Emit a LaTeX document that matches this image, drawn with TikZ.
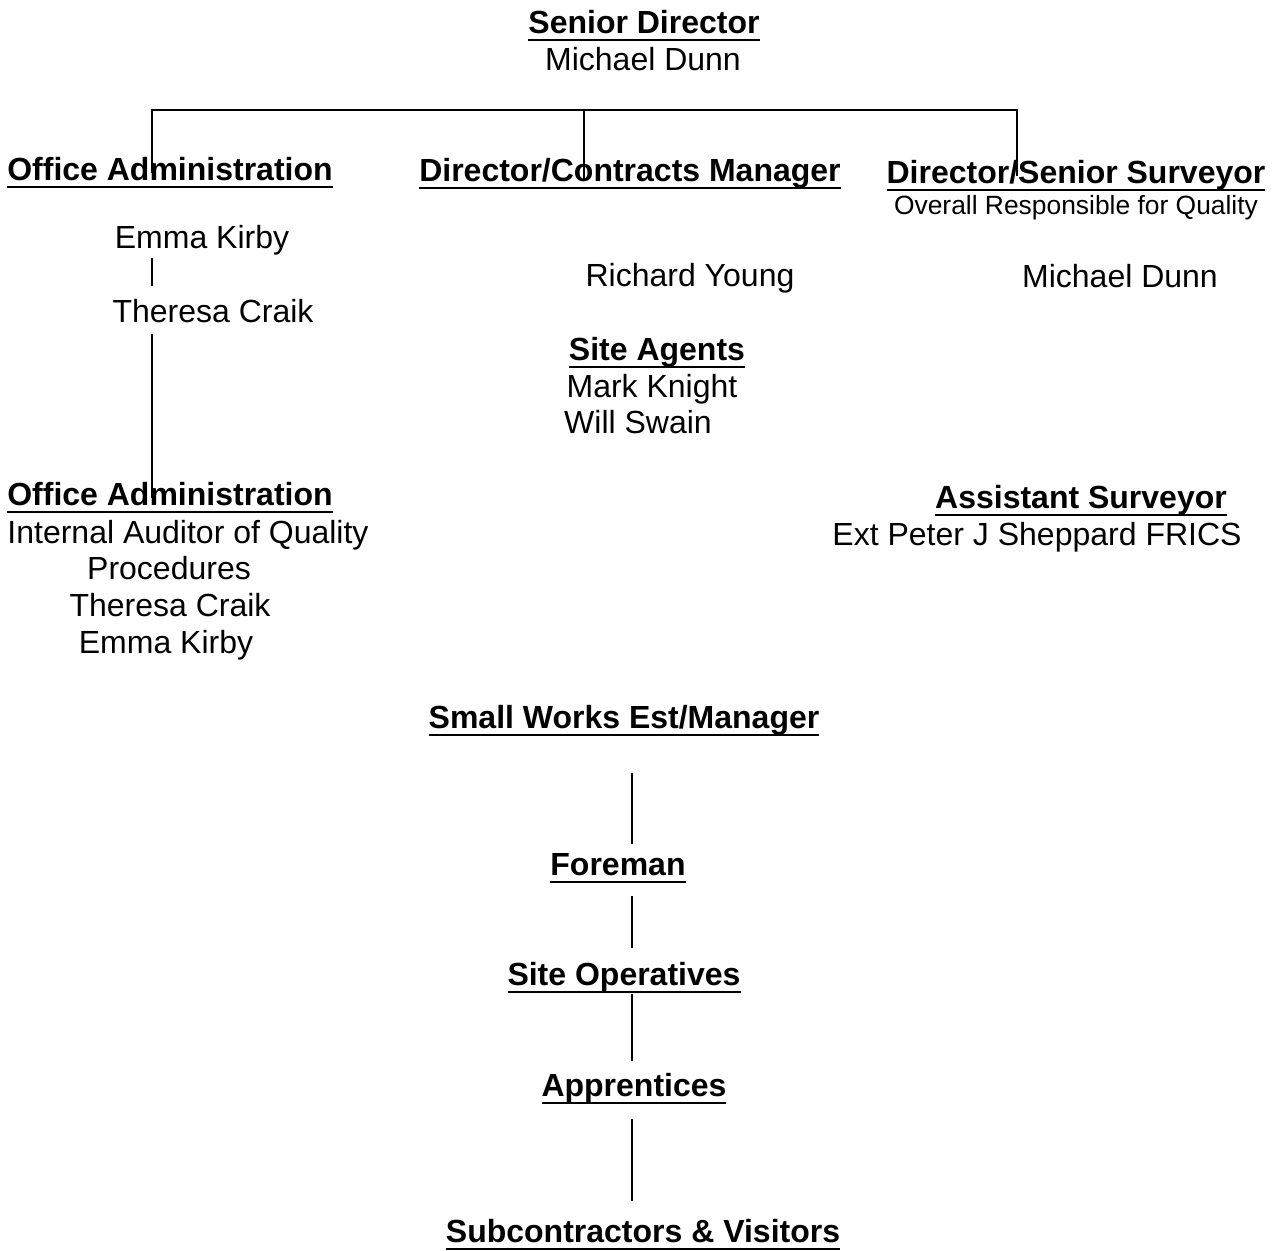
\documentclass[tikz,border=0pt]{standalone}
\usepackage{fontspec}
\setmainfont{Liberation Sans}
\newcommand{\ulhead}[1]{\setbox0\hbox{#1}\rlap{\rule[-4.2pt]{\wd0}{1.2pt}}\box0}
\begin{document}
\begin{tikzpicture}[x=0.5pt, y=-0.5pt,
        head/.style = {font=\fontsize{16}{19}\selectfont\bfseries, inner sep=0pt, anchor=base},
        person/.style = {font=\fontsize{16}{19}\selectfont, inner sep=0pt, anchor=base},
        remark/.style = {font=\fontsize{13.2}{16}\selectfont, inner sep=0pt, anchor=base},
        link/.style = {line width=0.9pt}]
        \useasboundingbox (0, 0) rectangle (1284, 1250);

        \node[head] (sd) at (644, 33) {\ulhead{Senior Director}};
        \node[person] (sdn) at (643, 70) {Michael Dunn};

        \node[head] (oa) at (170, 180) {\ulhead{Office Administration}};
        \node[head] (dcm) at (630, 181) {\ulhead{Director/Contracts Manager}};
        \node[head] (dss) at (1076, 183) {\ulhead{Director/Senior Surveyor}};
        \node[remark] (oq) at (1076, 214) {Overall Responsible for Quality};

        \node[person] (ek1) at (202, 248) {Emma Kirby};
        \node[person] (tc1) at (213, 322) {Theresa Craik};
        \node[person] (ry) at (690, 286) {Richard Young};
        \node[person] (md) at (1120, 287) {Michael Dunn};

        \node[head] (sa) at (657, 360) {\ulhead{Site Agents}};
        \node[person] (mk) at (652, 397) {Mark Knight};
        \node[person] (ws) at (638, 433) {Will Swain};

        \node[head] (oa2) at (170, 505) {\ulhead{Office Administration}};
        \node[person] (ia) at (188, 543) {Internal Auditor of Quality};
        \node[person] (pr) at (169, 579) {Procedures};
        \node[person] (tc2) at (170, 616) {Theresa Craik};
        \node[person] (ek2) at (166, 653) {Emma Kirby};

        \node[head] (as) at (1081, 508) {\ulhead{Assistant Surveyor}};
        \node[person] (pjs) at (1037, 545) {Ext Peter J Sheppard FRICS};

        \node[head] (swm) at (624, 728) {\ulhead{Small Works Est/Manager}};
        \node[head] (fm) at (618, 875) {\ulhead{Foreman}};
        \node[head] (so) at (624, 985) {\ulhead{Site Operatives}};
        \node[head] (ap) at (634, 1096) {\ulhead{Apprentices}};
        \node[head] (sv) at (643, 1242) {\ulhead{Subcontractors \& Visitors}};

        \coordinate (busL) at (152, 110);
        \coordinate (busM) at (584, 110);
        \coordinate (busR) at (1017, 110);
        \coordinate (spine) at (632, 0);

        \draw[link] (busL |- oa.center) -- (busL) -- (busR) -- (busR |- dss.center);
        \draw[link] (busM) -- (busM |- dcm.base);

        \draw[link, shorten <=1.5pt, shorten >=6pt] (ek1.south -| busL) -- (tc1.north -| busL);
        \draw[link, shorten <=5.5pt] (tc1.south -| busL) -- (oa2.center -| busL);

        \draw[link, shorten <=18.3pt, shorten >=4.5pt] (swm.south -| spine) -- (fm.north -| spine);
        \draw[link, shorten <=6.3pt, shorten >=6.5pt] (fm.south -| spine) -- (so.north -| spine);
        \draw[link, shorten >=5.7pt] (so.south -| spine) -- (ap.north -| spine);
        \draw[link, shorten <=7.3pt, shorten >=8.7pt] (ap.south -| spine) -- (sv.north -| spine);
\end{tikzpicture}
\end{document}
